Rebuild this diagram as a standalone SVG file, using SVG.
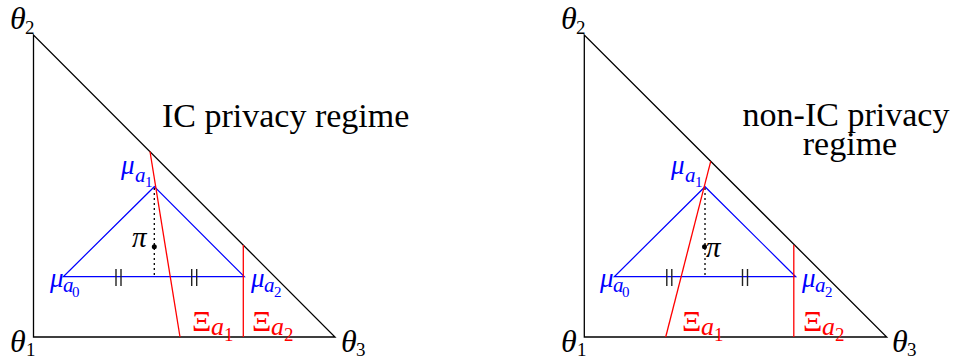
<svg xmlns="http://www.w3.org/2000/svg" width="958" height="360" viewBox="0 0 958 360">
<style>
.frame{fill:none;stroke:#000;stroke-width:1.3}
.blue{fill:none;stroke:#0000ff;stroke-width:1.2}
.red{fill:none;stroke:#ff0000;stroke-width:1.3}
.dot{stroke:#000;stroke-width:1.3;stroke-dasharray:2 3}
.tick{stroke:#222;stroke-width:1.4}
.th{font-family:"Liberation Serif",serif;font-style:italic;font-size:32px;fill:#000}
.thsub{font-family:"Liberation Serif",serif;font-size:19px;fill:#000}
.mu{font-family:"Liberation Serif",serif;font-style:italic;font-size:27px;fill:#0000ff}
.mua{font-family:"Liberation Serif",serif;font-style:italic;font-size:21px;fill:#0000ff}
.musub{font-family:"Liberation Serif",serif;font-size:15px;fill:#0000ff}
.xi{font-family:"Liberation Serif",serif;font-size:30px;fill:#ff0000}
.xia{font-family:"Liberation Serif",serif;font-style:italic;font-size:26px;fill:#ff0000}
.xisub{font-family:"Liberation Serif",serif;font-size:19px;fill:#ff0000}
.pi{font-family:"Liberation Serif",serif;font-style:italic;font-size:29px;fill:#000}
.title{font-family:"Liberation Serif",serif;font-size:34px;fill:#000}
</style>

<g id="panel-left">
  <g id="connectors-left">
    <polygon class="frame" points="33.5,35 33.5,337 335,337"/>
    <polygon class="blue" points="63.3,276.7 154.3,186.7 244.3,276.7"/>
    <line class="dot" x1="154.3" y1="188" x2="154.3" y2="277"/>
    <line class="red" x1="150" y1="151.5" x2="180" y2="337"/>
    <line class="red" x1="243.3" y1="245" x2="243.3" y2="337"/>
    <line class="tick" x1="116" y1="269" x2="116" y2="286"/>
    <line class="tick" x1="121" y1="269" x2="121" y2="286"/>
    <line class="tick" x1="191.7" y1="269" x2="191.7" y2="286"/>
    <line class="tick" x1="196.7" y1="269" x2="196.7" y2="286"/>
  </g>
  <g id="theta2-left"><text class="th" x="10" y="29">θ</text><text class="thsub" x="25" y="34">2</text></g>
  <g id="theta1-left"><text class="th" x="10" y="352">θ</text><text class="thsub" x="26" y="355.5">1</text></g>
  <g id="theta3-left"><text class="th" x="341" y="352">θ</text><text class="thsub" x="356" y="355.5">3</text></g>
  <g id="mu-a1-left"><text class="mu" x="121" y="174">μ</text><text class="mua" x="135" y="182">a</text><text class="musub" x="145" y="187">1</text></g>
  <g id="mu-a0-left"><text class="mu" x="50" y="287">μ</text><text class="mua" x="63" y="292">a</text><text class="musub" x="72" y="297">0</text></g>
  <g id="mu-a2-left"><text class="mu" x="251" y="287">μ</text><text class="mua" x="264" y="292">a</text><text class="musub" x="274" y="297">2</text></g>
  <g id="pi-left"><circle cx="154.3" cy="246.7" r="2.5" fill="#000"/><text class="pi" x="132" y="247">π</text></g>
  <g id="xi-a1-left"><text class="xi" x="192" y="331">Ξ</text><text class="xia" x="211" y="335">a</text><text class="xisub" x="224" y="341">1</text></g>
  <g id="xi-a2-left"><text class="xi" x="252" y="331">Ξ</text><text class="xia" x="271" y="335">a</text><text class="xisub" x="284" y="341">2</text></g>
  <g id="title-left"><text class="title" x="162" y="127">IC privacy regime</text></g>
</g>

<g id="panel-right">
  <g id="connectors-right">
    <polygon class="frame" points="584.3,35 584.3,337 886.7,337"/>
    <polygon class="blue" points="614.3,276.7 705,186.7 795.7,276.7"/>
    <line class="dot" x1="705" y1="188" x2="705" y2="277"/>
    <line class="red" x1="710.7" y1="161.4" x2="665.7" y2="337"/>
    <line class="red" x1="793.8" y1="245" x2="793.8" y2="337"/>
    <line class="tick" x1="666.8" y1="269" x2="666.8" y2="286"/>
    <line class="tick" x1="671.8" y1="269" x2="671.8" y2="286"/>
    <line class="tick" x1="742.5" y1="269" x2="742.5" y2="286"/>
    <line class="tick" x1="747.5" y1="269" x2="747.5" y2="286"/>
  </g>
  <g id="theta2-right"><text class="th" x="561" y="29">θ</text><text class="thsub" x="576" y="34">2</text></g>
  <g id="theta1-right"><text class="th" x="561" y="352">θ</text><text class="thsub" x="577" y="355.5">1</text></g>
  <g id="theta3-right"><text class="th" x="892" y="352">θ</text><text class="thsub" x="907" y="355.5">3</text></g>
  <g id="mu-a1-right"><text class="mu" x="671" y="174">μ</text><text class="mua" x="685" y="182">a</text><text class="musub" x="695" y="187">1</text></g>
  <g id="mu-a0-right"><text class="mu" x="600" y="287">μ</text><text class="mua" x="613" y="292">a</text><text class="musub" x="622" y="297">0</text></g>
  <g id="mu-a2-right"><text class="mu" x="802" y="287">μ</text><text class="mua" x="815" y="292">a</text><text class="musub" x="825" y="297">2</text></g>
  <g id="pi-right"><circle cx="704.5" cy="246.7" r="2.5" fill="#000"/><text class="pi" x="706" y="257">π</text></g>
  <g id="xi-a1-right"><text class="xi" x="682" y="331">Ξ</text><text class="xia" x="701" y="335">a</text><text class="xisub" x="714" y="341">1</text></g>
  <g id="xi-a2-right"><text class="xi" x="803" y="331">Ξ</text><text class="xia" x="822" y="335">a</text><text class="xisub" x="835" y="341">2</text></g>
  <g id="title-right"><text class="title" text-anchor="middle"><tspan x="846" y="126">non-IC privacy</tspan><tspan x="850" y="155">regime</tspan></text></g>
</g>
</svg>
